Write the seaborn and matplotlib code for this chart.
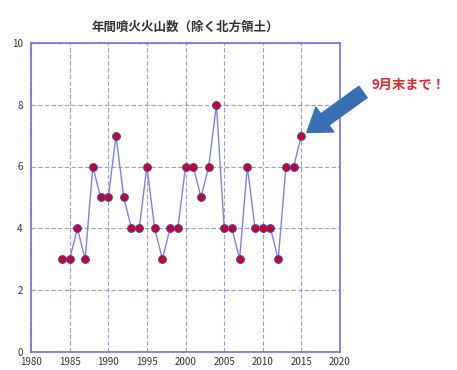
import matplotlib
matplotlib.use("Agg")
import matplotlib.pyplot as plt
import seaborn as sns
import pandas as pd

years = list(range(1984, 2016))
counts = [3, 3, 4, 3, 6, 5, 5, 7, 5, 4, 4, 6, 4, 3, 4, 4,
          6, 6, 5, 6, 8, 4, 4, 3, 6, 4, 4, 4, 3, 6, 6, 7]
xticks = [1980, 1985, 1990, 1995, 2000, 2005, 2010, 2015, 2020]
yticks = [0, 2, 4, 6, 8, 10]
title = "年間噴火火山数（除く北方領土）"
note = "9月末まで！"

sns.set_style("white")
plt.rcParams['font.family'] = ['Noto Sans CJK JP', 'DejaVu Sans']

df = pd.DataFrame({"year": years, "count": counts})

fig = plt.figure(figsize=(4.57, 3.70), dpi=100)
ax = fig.add_axes([0.068, 0.049, 0.676, 0.835])

sns.lineplot(data=df, x="year", y="count", ax=ax, color="#7f7ff0",
             linewidth=1.0, marker="o", markersize=5.5,
             markerfacecolor="#d0001a", markeredgecolor="#4040c0",
             markeredgewidth=0.8, zorder=3)

ax.set_xlim(1980, 2020)
ax.set_ylim(0, 10)
ax.set_xticks(xticks)
ax.set_yticks(yticks)
ax.tick_params(axis="x", labelsize=7, length=0, colors="#333333", pad=4)
ax.tick_params(axis="y", labelsize=7, length=0, colors="#333333", pad=6)
ax.grid(True, color="#8080ee", linestyle=(0, (4, 2)), linewidth=0.8, alpha=0.8)
for s in ax.spines.values():
    s.set_color("#7070ee")
    s.set_linewidth(1.2)
ax.set_xlabel("")
ax.set_ylabel("")
ax.set_title(title, fontsize=9, color="#333333", fontweight="bold", pad=9)

ax.annotate("", xy=(2015.7, 7.1), xycoords="data",
            xytext=(363, 278), textcoords="figure pixels",
            arrowprops=dict(arrowstyle="simple,head_length=0.8,head_width=1.1,tail_width=0.5",
                            color="#3a6fb5", mutation_scale=20, shrinkA=0, shrinkB=0),
            annotation_clip=False)
fig.text(372 / 457, 1 - 85 / 370, note, color="#e8252a", fontsize=9.5,
         fontweight="bold", va="center", ha="left")

fig.savefig("out.png", dpi=100)
